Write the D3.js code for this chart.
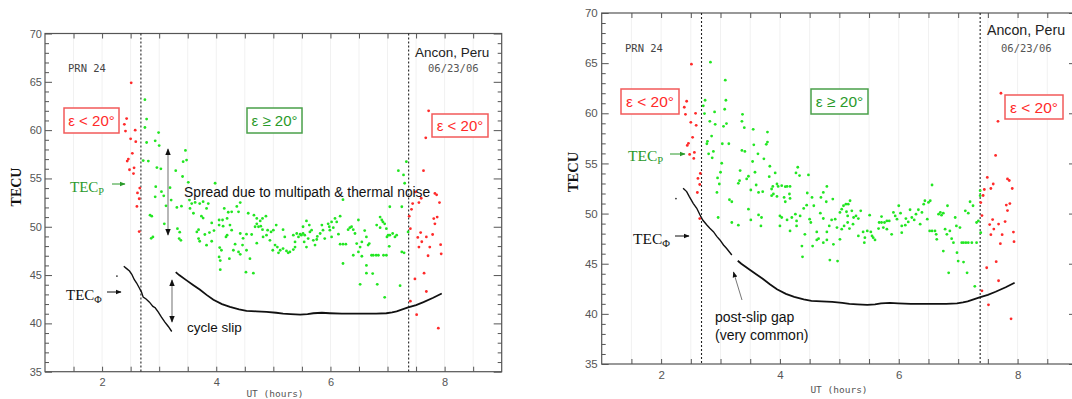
<!DOCTYPE html>
<html><head><meta charset="utf-8">
<script src="https://cdn.jsdelivr.net/npm/d3@7"></script>
<style>body{margin:0;background:#fff}svg{display:block}</style>
</head><body><svg id="c" width="1072" height="399"></svg>
<script>
const xDomain=[1,9], yDomain=[35,70];
const yMajor=[35,40,45,50,55,60,65,70];
const xLabels=[2,4,6,8];
const elevCuts=[2.68,7.37];
const redPts=[[2.51,64.9],[2.43,61.2],[2.39,60.6],[2.41,59.9],[2.58,60.0],[2.50,59.1],[2.59,58.8],[2.53,57.6],[2.46,57.0],[2.44,56.8],[2.56,56.1],[2.48,55.9],[2.55,55.5],[2.66,54.0],[2.62,53.5],[2.65,52.9],[2.61,52.1],[2.65,49.5],
[7.72,62.0],[7.67,59.2],[7.63,55.8],[7.83,53.45],[7.86,53.3],[7.49,53.6],[7.59,52.95],[7.55,52.5],[7.91,52.5],[7.44,52.4],[7.42,51.8],[7.38,51.1],[7.87,51.0],[7.81,50.85],[7.83,50.3],[7.40,49.8],[7.58,49.4],[7.79,49.2],[7.53,48.9],[7.68,48.95],[7.60,48.45],[7.55,47.9],[7.74,47.9],[7.93,48.15],[7.94,47.2],[7.71,47.0],[7.64,45.2],[7.48,44.6],[7.68,43.3],[7.40,42.3],[7.51,40.9],[7.89,39.5]];
const greenLeft=[[2.75,63.15],[2.78,61.14],[2.75,60.27],[2.99,59.75],[2.93,58.89],[2.78,58.72],[3.00,58.4],[2.72,56.85],[2.81,56.8],[2.96,56.12],[3.03,56.0],[3.46,57.9],[3.42,56.74],[3.48,56.9],[3.29,55.8],[3.41,55.2],[2.94,54.15],[3.51,54.6],[3.19,54.04],[3.04,53.63],[3.08,53.2],[2.93,53.1],[3.21,52.76],[3.98,54.5],[3.12,52.17],[3.31,52.0],[3.39,52.13],[3.53,52.76],[3.54,51.9],[3.57,52.4],[3.63,52.52],[3.71,52.4],[3.77,52.6],[3.86,52.4],[3.83,51.9],[3.60,51.4],[3.74,51.1],[3.77,50.9],[2.84,51.2],[2.87,51.1],[3.09,50.3],[2.89,48.95],[2.86,48.8],[3.32,49.8],[3.36,49.44],[3.35,48.78],[3.38,48.6],[3.92,50.4],[4.05,50.7],[4.11,50.7],[4.19,50.86],[4.14,51.9],[4.21,51.5],[4.36,52.1],[4.42,52.5],[4.27,51.55],[4.39,51.55],[4.56,51.4],[4.05,50.17],[4.12,50.06],[4.24,50.17],[3.69,49.7],[3.66,49.47],[3.80,49.2],[3.88,49.4],[3.96,49.6],[3.83,48.09],[3.92,48.5],[3.69,48.78],[3.71,48.5],[4.06,47.85],[4.09,47.57],[4.05,46.88],[4.07,46.5],[4.07,45.56],[4.19,49.13],[4.17,48.95],[4.27,49.65],[4.33,48.2],[4.30,47.57],[4.39,47.4],[4.42,47.15],[4.42,49.3],[4.47,48.8],[4.53,49.23],[4.46,48.1],[4.53,47.57],[4.52,45.3],[4.65,45.2],[4.59,46.7],[4.23,46.7],[4.66,51.2],[4.71,50.86],[4.71,50.3],[4.77,50.6],[4.81,50.86],[4.87,51.1],[4.68,50.0],[4.74,50.0],[4.78,50.06],[4.81,49.7],[4.90,49.65],[4.96,49.47],[5.00,49.65],[5.05,50.17],[4.88,49.13],[4.82,48.95],[4.71,48.3],[4.62,49.2],[4.94,48.6],[5.03,48.1],[4.99,47.57],[5.07,47.9],[5.09,47.3],
[5.17,49.7],[5.20,48.95],[5.12,47.57],[5.17,47.74],[5.23,47.5],[5.26,47.3],[5.29,47.4],[5.35,49.13],[5.41,49.3],[5.38,48.43],[5.44,48.95],[5.47,49.23],[5.49,49.13],[5.52,49.3],[5.55,49.13],[5.54,48.43],[5.58,47.9],[5.38,47.9],[5.35,47.64],[5.52,50.0],[5.58,50.6],[5.63,50.17],[5.64,49.47],[5.61,48.78],[5.67,49.65],[5.70,48.6],[5.76,48.68],[5.73,48.1],[5.77,49.0],[5.82,49.3],[5.85,50.17],[5.87,49.65],[5.90,48.78],[5.96,50.3],[5.98,50.0],[6.02,50.5],[6.08,50.86],[6.05,49.9],[6.11,50.5],[6.17,51.1],[5.99,49.65],[6.02,48.95],[6.14,49.23],[6.17,48.2],[6.22,48.2],[6.27,48.2],[6.22,46.2],[6.22,52.8],[6.31,49.7],[6.34,49.9],[6.37,50.0],[6.40,49.7],[6.43,49.3],[6.49,50.7],[6.46,48.26],[6.49,47.4],[6.40,47.05],[6.52,47.9],[6.55,46.95],[6.55,48.43],[6.60,49.6],[6.63,48.95],[6.66,48.1],[6.63,46.0],[6.63,45.2],[6.68,48.26],[6.72,47.05],[6.75,47.05],[6.80,47.05],[6.84,47.05],[6.74,45.15],[6.52,44.04],[6.81,50.17],[6.87,51.0],[6.90,50.7],[6.92,50.5],[6.87,49.9],[6.95,50.3],[6.98,49.8],[7.01,49.13],[6.99,48.95],[6.93,47.05],[6.98,47.05],[7.04,49.13],[7.09,49.3],[7.13,48.95],[7.16,49.13],[7.03,47.98],[7.04,52.07],[7.19,55.8],[7.25,52.07],[7.28,55.36],[7.30,54.5],[7.33,56.74],[7.25,47.4],[7.29,47.3],[7.22,43.9],[6.95,42.7],[6.82,44.04],[7.36,49.47]];
const greenRight=[[2.83,65.1],[3.08,63.3],[2.74,61.3],[3.09,61.3],[2.71,60.74],[3.07,60.4],[2.90,60.14],[2.73,59.97],[3.37,59.9],[2.82,59.2],[2.91,58.9],[3.05,58.7],[3.10,58.97],[3.36,59.2],[3.40,58.57],[3.55,58.4],[3.79,58.13],[2.85,57.73],[2.78,57.2],[2.77,56.96],[3.03,56.96],[3.14,56.96],[3.56,56.86],[3.77,56.9],[3.79,57.13],[3.36,56.3],[3.41,56.2],[3.63,55.96],[2.80,55.96],[2.88,56.2],[2.86,55.56],[3.73,55.46],[3.54,55.19],[3.02,55.02],[3.83,54.72],[4.30,54.62],[3.00,54.12],[3.33,54.29],[3.47,53.72],[3.44,53.45],[3.58,54.12],[3.92,54.05],[3.82,53.68],[4.27,54.05],[4.33,53.79],[4.48,53.85],[2.95,53.55],[3.32,53.28],[3.30,53.02],[2.98,52.95],[3.60,52.85],[3.51,52.35],[3.64,52.11],[3.71,52.18],[3.86,52.45],[3.88,52.71],[3.95,52.95],[3.97,52.71],[4.03,52.78],[4.09,52.68],[4.12,52.71],[4.17,52.71],[3.89,51.95],[3.86,51.78],[3.95,51.71],[4.07,51.61],[4.16,51.95],[4.17,51.51],[4.09,51.18],[2.94,52.11],[3.15,51.38],[3.19,51.18],[4.46,52.05],[4.54,51.61],[4.69,51.61],[4.79,52.71],[4.73,52.11],[4.89,51.45],[4.78,51.18],[3.47,50.44],[3.64,49.87],[3.69,49.61],[3.68,48.77],[3.51,49.37],[2.96,49.61],[3.19,49.11],[3.30,48.84],[4.00,49.77],[4.03,49.61],[4.00,48.77],[4.12,49.37],[4.17,48.27],[4.20,49.61],[4.26,49.94],[4.28,49.27],[4.34,49.77],[4.40,50.51],[4.45,50.84],[4.50,49.44],[4.52,49.11],[4.28,48.77],[4.42,47.93],[4.37,46.76],[4.38,45.69],[4.57,50.78],[4.62,48.17],[4.65,47.5],[4.62,47.37],[4.73,47.1],[4.79,48.17],[4.68,50.04],[4.73,49.51],[4.83,48.77],[4.87,49.37],[4.93,49.44],[4.96,48.6],[4.90,46.93],[4.79,47.37],[4.55,46.76],[4.84,45.36],[4.97,45.26],[5.01,50.11],[5.04,50.44],[5.07,50.78],[5.11,50.94],[5.15,50.94],[5.12,50.18],[5.04,48.44],[5.08,48.77],[5.14,49.11],
[5.01,47.43],[5.18,51.28],[5.14,49.77],[5.21,50.27],[5.24,49.61],[5.23,48.94],[5.28,49.77],[5.32,49.5],[5.36,50.27],[5.17,48.5],[5.32,47.77],[5.40,48.17],[5.43,47.6],[5.42,47.1],[5.51,49.84],[5.47,48.27],[5.53,48.17],[5.55,47.77],[5.57,47.6],[5.60,47.37],[5.66,48.5],[5.67,49.11],[5.71,49.7],[5.71,49.11],[5.76,49.11],[5.80,49.27],[5.84,49.27],[5.74,48.6],[5.80,48.44],[5.88,47.93],[5.91,50.11],[5.94,49.77],[5.97,49.44],[6.00,50.78],[6.03,50.04],[6.05,48.77],[6.11,48.84],[6.05,48.1],[6.12,49.5],[6.16,49.17],[6.19,50.38],[6.22,49.61],[6.26,49.37],[6.29,49.94],[6.33,50.38],[6.36,48.94],[6.39,50.11],[6.42,50.94],[6.44,51.28],[6.50,51.11],[6.53,51.28],[6.56,52.85],[6.48,49.44],[6.52,48.27],[6.56,48.27],[6.61,48.27],[6.63,47.93],[6.64,47.43],[6.67,49.94],[6.70,50.11],[6.72,49.84],[6.75,50.04],[6.78,48.44],[6.81,47.93],[6.82,50.78],[6.86,48.27],[6.89,47.5],[6.92,47.1],[6.95,49.61],[6.97,48.77],[6.98,46.1],[7.00,45.26],[7.09,45.16],[6.75,46.26],[6.84,44.09],[7.03,48.6],[7.06,47.1],[7.09,47.1],[7.13,47.1],[7.17,47.1],[7.23,47.1],[7.12,50.27],[7.17,50.04],[7.20,51.18],[7.25,50.78],[7.15,44.09],[7.28,42.75],[7.31,49.11],[7.34,49.27],[7.37,52.28],[7.37,51.78],[7.38,48.1],[7.31,47.1]];
const phiBeforeLeft=[[2.38,45.91],[2.43,45.67],[2.48,45.42],[2.52,45.08],[2.565,44.52],[2.605,44.18],[2.65,43.69],[2.69,43.24],[2.72,42.72],[2.77,42.52],[2.83,42.2],[2.89,41.76],[2.93,41.62],[2.985,41.17],[3.04,40.65],[3.10,40.13],[3.16,39.68],[3.22,39.16]];
const phiBeforeRight=[[2.37,52.52],[2.43,52.19],[2.475,51.69],[2.54,51.02],[2.60,50.53],[2.655,49.86],[2.70,49.36],[2.77,48.86],[2.82,48.53],[2.88,48.2],[2.94,47.7],[2.99,47.37],[3.05,46.87],[3.10,46.54],[3.19,45.87]];
const phiAfter=[[3.29,45.3],[3.35,45.0],[3.48,44.45],[3.6,43.95],[3.71,43.5],[3.83,42.95],[3.95,42.45],[4.1,42.0],[4.24,41.7],[4.4,41.45],[4.53,41.3],[4.7,41.25],[4.88,41.2],[5.05,41.1],[5.17,41.0],[5.3,40.95],[5.47,40.9],[5.6,40.95],[5.7,41.05],[5.85,41.1],[5.99,41.05],[6.2,41.0],[6.4,41.0],[6.57,41.0],[6.8,41.0],[6.98,41.05],[7.08,41.15],[7.16,41.25],[7.26,41.45],[7.36,41.65],[7.5,41.9],[7.63,42.2],[7.8,42.65],[7.95,43.1]];
const phiDotLeft=[[2.26,44.9]];
const phiDotRight=[[2.25,51.5]];

const svg=d3.select('#c');
const defs=svg.append('defs');
function marker(id,color){
  defs.append('marker').attr('id',id).attr('viewBox','0 0 10 10').attr('refX',9).attr('refY',5)
    .attr('markerWidth',6).attr('markerHeight',6).attr('orient','auto-start-reverse')
    .append('path').attr('d','M0,1L10,5L0,9z').attr('fill',color);
}
marker('ak','#111');marker('ag','#2a9a2a');
const SANS='Liberation Sans, Arial, sans-serif', SERIF='Liberation Serif, Times New Roman, serif', MONO='DejaVu Sans Mono, monospace';
const RED='#ff2a2a', GREEN='#22e622';

function drawPanel(cfg){
  const x=d3.scaleLinear().domain(xDomain).range([cfg.x0,cfg.x1]);
  const y=d3.scaleLinear().domain(yDomain).range([cfg.yb,cfg.yt]);
  const g=svg.append('g');
  g.append('g').selectAll('line').data(d3.range(1.5,9,0.5)).join('line')
    .attr('x1',d=>x(d)).attr('x2',d=>x(d)).attr('y1',cfg.yt).attr('y2',cfg.yb)
    .attr('stroke','#f1f1f1').attr('stroke-width',1);
  g.append('rect').attr('x',cfg.x0).attr('y',cfg.yt).attr('width',cfg.x1-cfg.x0).attr('height',cfg.yb-cfg.yt)
    .attr('fill','none').attr('stroke','#555').attr('stroke-width',1.2);
  const minorY=d3.range(36,70,1).filter(v=>v%5!==0);
  const xt=d3.range(1.5,9,0.5);
  const styleAxis=s=>{s.select('.domain').remove();s.selectAll('line').attr('stroke','#555');
    s.attr('font-family',SANS).attr('font-size',cfg.fs).selectAll('text').attr('fill','#555');};
  g.append('g').attr('transform',`translate(${cfg.x0},0)`).call(d3.axisLeft(y).tickValues(yMajor).tickSize(-7).tickPadding(cfg.yPad).tickFormat(d3.format('d'))).call(styleAxis);
  g.append('g').attr('transform',`translate(${cfg.x0},0)`).call(d3.axisLeft(y).tickValues(minorY).tickSize(-4).tickFormat('')).call(styleAxis);
  g.append('g').attr('transform',`translate(${cfg.x1},0)`).call(d3.axisRight(y).tickValues(yMajor).tickSize(-8).tickFormat('')).call(styleAxis);
  g.append('g').attr('transform',`translate(${cfg.x1},0)`).call(d3.axisRight(y).tickValues(minorY).tickSize(-4).tickFormat('')).call(styleAxis);
  g.append('g').attr('transform',`translate(0,${cfg.yb})`).call(d3.axisBottom(x).tickValues(xt).tickSize(-5).tickPadding(cfg.xPad).tickFormat(d=>xLabels.includes(d)?d:'')).call(styleAxis);
  g.append('g').attr('transform',`translate(0,${cfg.yt})`).call(d3.axisTop(x).tickValues(xt).tickSize(-5).tickFormat('')).call(styleAxis);
  // elevation cut lines
  g.append('g').selectAll('line').data(elevCuts).join('line')
    .attr('x1',d=>x(d)).attr('x2',d=>x(d)).attr('y1',cfg.yt).attr('y2',cfg.yb)
    .attr('stroke','#222').attr('stroke-width',1.1).attr('stroke-dasharray','2,2');
  // points
  g.append('g').selectAll('circle').data(cfg.green).join('circle')
    .attr('cx',d=>x(d[0])).attr('cy',d=>y(d[1])).attr('r',1.4).attr('fill',GREEN);
  g.append('g').selectAll('circle').data(redPts).join('circle')
    .attr('cx',d=>x(d[0])).attr('cy',d=>y(d[1])).attr('r',1.4).attr('fill',RED);
  const line=d3.line().x(d=>x(d[0])).y(d=>y(d[1]));
  g.append('path').attr('d',line(cfg.phiBefore)).attr('fill','none').attr('stroke','#111').attr('stroke-width',1.4);
  g.append('path').attr('d',line(phiAfter)).attr('fill','none').attr('stroke','#111').attr('stroke-width',1.8);
  g.append('g').selectAll('circle').data(cfg.phiDot).join('circle')
    .attr('cx',d=>x(d[0])).attr('cy',d=>y(d[1])).attr('r',0.9).attr('fill','#333');
  return g;
}
function txt(t,x,y,opt){
  const e=svg.append('text').attr('x',x).attr('y',y).attr('font-family',opt.ff||SANS).attr('font-size',opt.fs||12)
    .attr('fill',opt.fill||'#111').attr('text-anchor',opt.anchor||'start');
  if(opt.weight)e.attr('font-weight',opt.weight);
  e.text(t);return e;
}
function box(x,y,w,h,label,color,stroke,fs){
  svg.append('rect').attr('x',x).attr('y',y).attr('width',w).attr('height',h).attr('fill','#fff')
    .attr('stroke',stroke).attr('stroke-width',1.5);
  txt(label,x+w/2,y+h/2+5.5,{fs:fs,fill:color,anchor:'middle'});
}
function sub(main,s,x,y,color,fs){
  const e=svg.append('text').attr('x',x).attr('y',y).attr('font-family',SERIF).attr('font-size',fs).attr('fill',color);
  e.append('tspan').text(main);
  e.append('tspan').attr('font-size',fs*0.68).attr('dy',3).text(s);
}
function arrow(x1,y1,x2,y2,color,mk,both,w){
  const l=svg.append('line').attr('x1',x1).attr('y1',y1).attr('x2',x2).attr('y2',y2)
    .attr('stroke',color).attr('stroke-width',w||1.2).attr('marker-end',`url(#${mk})`);
  if(both)l.attr('marker-start',`url(#${mk})`);
}

drawPanel({x0:45,x1:501.7,yb:371.7,yt:33.5,fs:11,yPad:3,xPad:7,green:greenLeft,phiBefore:phiBeforeLeft,phiDot:phiDotLeft});
drawPanel({x0:601.7,x1:1077,yb:364,yt:13,fs:11.5,yPad:4,xPad:7,green:greenRight,phiBefore:phiBeforeRight,phiDot:phiDotRight});

// Left annotations
txt('PRN 24',68,72,{ff:MONO,fs:10.5,fill:'#444'});
txt('Ancon, Peru',415,57,{fs:13.5,fill:'#222'});
txt('06/23/06',428,72,{ff:MONO,fs:10.5,fill:'#555'});
box(64,108,55,25,'ε < 20°',RED,'#f25a5a',15);
box(247,108,55,25,'ε ≥ 20°','#2a9a2a','#4aa04a',15);
box(432,114,56,23,'ε < 20°',RED,'#f25a5a',15);
sub('TEC','P',70,192,'#2a9a2a',15);
arrow(112,184,125,184,'#2a9a2a','ag',false,1);
sub('TEC','Φ',66,300,'#111',15);
arrow(107,292,121,292,'#111','ak',false,1);
txt('Spread due to multipath & thermal noise',184,197,{fs:13.8,fill:'#111'});
arrow(168,149,168,235,'#888','ak',true,1.2);
arrow(172,280,172,322,'#888','ak',true,1.2);
txt('cycle slip',187,332,{fs:13.5,fill:'#111'});
svg.append('text').attr('transform','translate(21,187) rotate(-90)').attr('text-anchor','middle')
  .attr('font-family',SERIF).attr('font-size',14).attr('font-weight','bold').attr('fill','#111').text('TECU');
txt('UT (hours)',275,397,{ff:MONO,fs:9.5,fill:'#555',anchor:'middle'});

// Right annotations
txt('PRN 24',625,52,{ff:MONO,fs:10.5,fill:'#444'});
txt('Ancon, Peru',987,35,{fs:14.2,fill:'#222'});
txt('06/23/06',1001,52,{ff:MONO,fs:10.5,fill:'#555'});
box(621,89,58,25,'ε < 20°',RED,'#f25a5a',15.5);
box(811,89,57,25,'ε ≥ 20°','#2a9a2a','#4aa04a',15.5);
box(1005,95,58,24,'ε < 20°',RED,'#f25a5a',15.5);
sub('TEC','P',628,161,'#2a9a2a',15.5);
arrow(670,154,685,154,'#2a9a2a','ag',false,1);
sub('TEC','Φ',633,244,'#111',15.5);
arrow(675,236,689,236,'#111','ak',false,1);
txt('post-slip gap',715,322,{fs:14,fill:'#111'});
txt('(very common)',715,340,{fs:14,fill:'#111'});
arrow(742,300,733.5,272,'#777','ak',false,1);
svg.append('text').attr('transform','translate(578,172) rotate(-90)').attr('text-anchor','middle')
  .attr('font-family',SERIF).attr('font-size',14.5).attr('font-weight','bold').attr('fill','#111').text('TECU');
txt('UT (hours)',839,393,{ff:MONO,fs:9.5,fill:'#555',anchor:'middle'});
</script></body></html>
